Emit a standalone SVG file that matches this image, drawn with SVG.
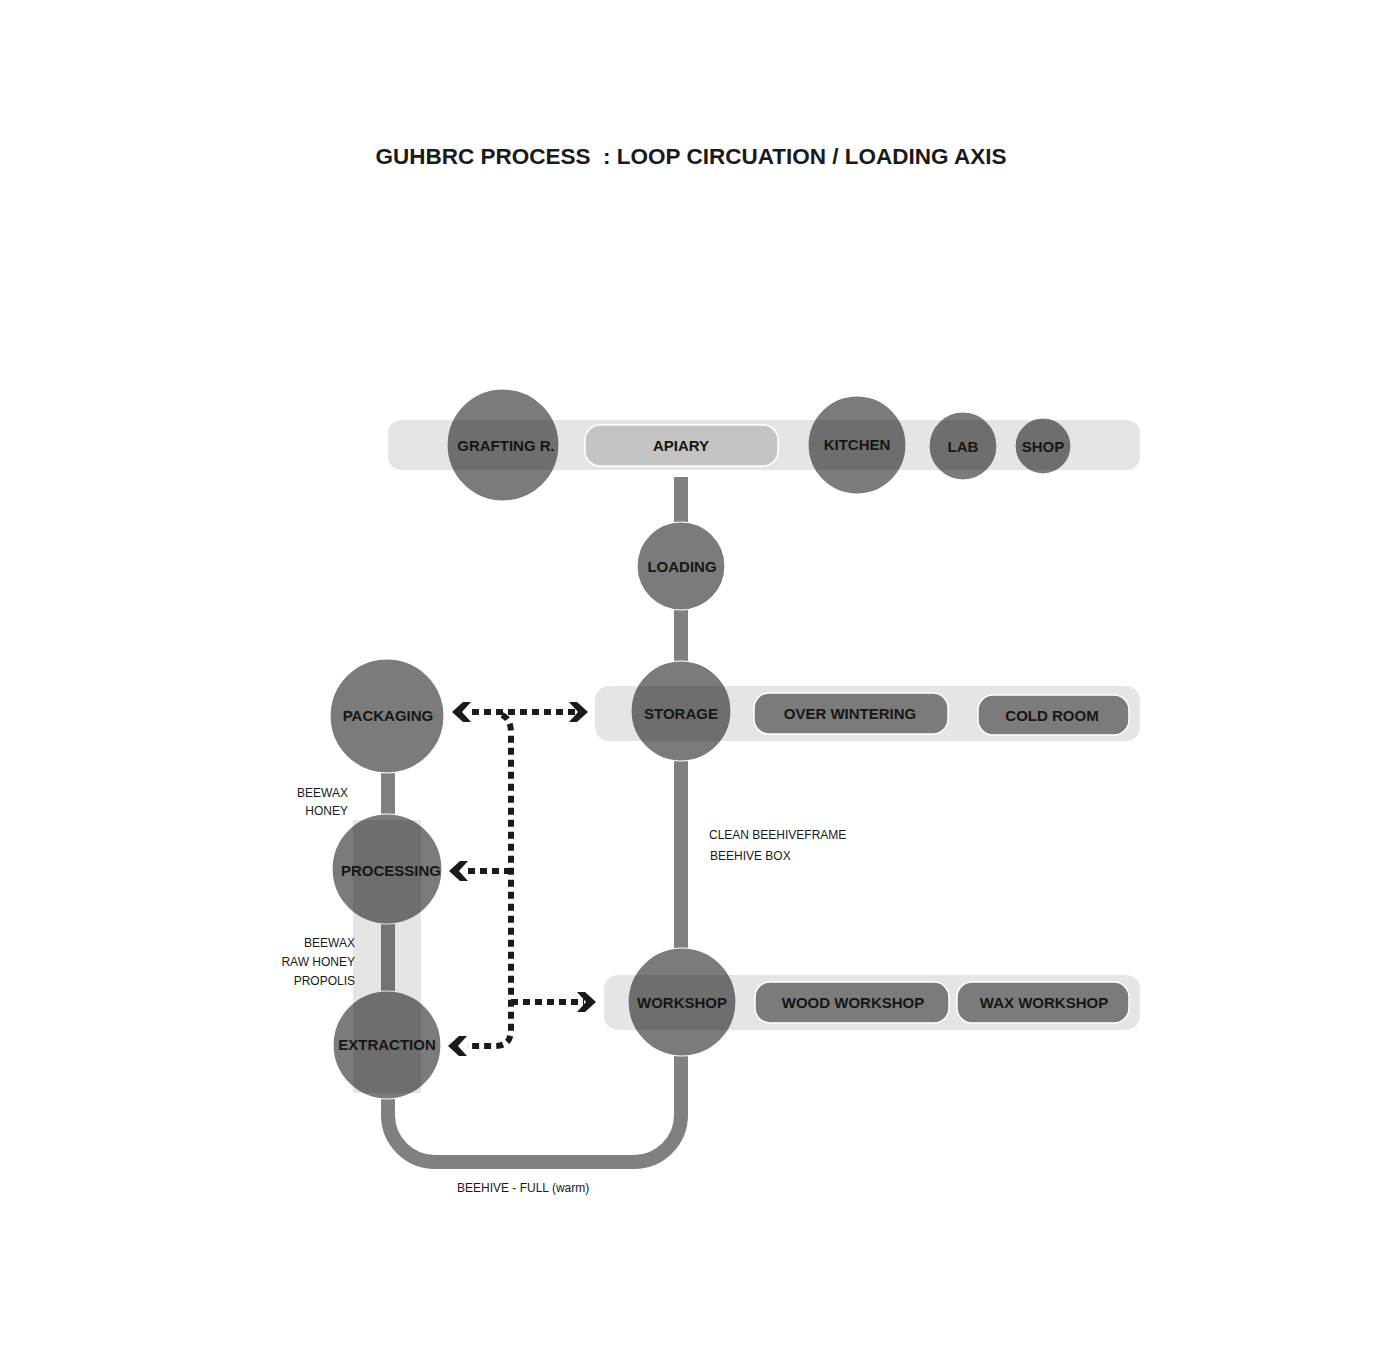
<svg xmlns="http://www.w3.org/2000/svg" xmlns:xlink="http://www.w3.org/1999/xlink" width="1400" height="1367" viewBox="0 0 1400 1367">
<style>
.title{font-family:"Liberation Sans",Arial,sans-serif;font-weight:bold;font-size:22.5px;fill:#1a1a1a;white-space:pre}
.lbl{font-family:"Liberation Sans",Arial,sans-serif;font-weight:bold;font-size:15px;fill:#161616;text-anchor:middle}
.note{font-family:"Liberation Sans",Arial,sans-serif;font-size:12px;fill:#1a1a1a}
.node{fill:#7b7b7b;stroke:#ffffff;stroke-width:1.2}
.pill{fill:#7b7b7b;stroke:#ffffff;stroke-width:1.5}
.band{fill:#000000;fill-opacity:0.1}
.flow{fill:none;stroke:#808080;stroke-width:14}
.dots{fill:none;stroke:#1a1a1a;stroke-width:6;stroke-dasharray:7 5}
.chev{fill:#1a1a1a}
</style>
<defs>
<path id="chev" d="M0 0 L11 -10 L19 -10 L10 0 L19 10 L11 10 Z"/>
</defs>
<rect width="1400" height="1367" fill="#ffffff"/>
<text class="title" x="691" y="164" text-anchor="middle">GUHBRC PROCESS  : LOOP CIRCUATION / LOADING AXIS</text>

<g id="connectors">
<path class="flow" d="M681 477 V1115 A47 47 0 0 1 634 1162 H435 A47 47 0 0 1 388 1115 V716"/>
<path class="dots" d="M472 712 H578"/>
<path class="dots" d="M502 715 Q511 719 511 733 V1030 Q511 1046 495 1046 H467"/>
<path class="dots" d="M511 871 H466"/>
<path class="dots" d="M511 1002 H584"/>
<use class="chev" xlink:href="#chev" transform="translate(452,712)"/>
<use class="chev" xlink:href="#chev" transform="translate(588,712) scale(-1,1)"/>
<use class="chev" xlink:href="#chev" transform="translate(449,871)"/>
<use class="chev" xlink:href="#chev" transform="translate(448,1046)"/>
<use class="chev" xlink:href="#chev" transform="translate(596,1002) scale(-1,1)"/>
</g>

<g id="grafting"><circle class="node" cx="503" cy="445" r="56"/></g>
<g id="kitchen"><circle class="node" cx="857" cy="445" r="49"/></g>
<g id="lab"><circle class="node" cx="963" cy="446" r="34"/></g>
<g id="shop"><circle class="node" cx="1043" cy="446" r="28"/></g>
<g id="loading"><circle class="node" cx="681" cy="566" r="44"/></g>
<g id="storage"><circle class="node" cx="681" cy="711" r="50"/></g>
<g id="workshop"><circle class="node" cx="682" cy="1002" r="54"/></g>
<g id="packaging"><circle class="node" cx="387" cy="716" r="57"/></g>
<g id="processing"><circle class="node" cx="387" cy="869" r="55"/></g>
<g id="extraction"><circle class="node" cx="387" cy="1045" r="54"/></g>

<g id="bands">
<rect class="band" x="388" y="420" width="752" height="50" rx="13"/>
<rect class="band" x="595" y="686" width="545" height="55" rx="14"/>
<rect class="band" x="604" y="975" width="536" height="55" rx="14"/>
<rect class="band" x="353" y="820" width="68" height="273"/>
</g>

<g id="apiary"><rect x="585" y="425" width="193" height="41" rx="15" fill="#c4c4c4" stroke="#ffffff" stroke-width="1.5"/><text class="lbl" x="681" y="451">APIARY</text></g>
<g id="overwintering"><rect class="pill" x="754" y="693" width="194" height="41" rx="15"/><text class="lbl" x="850" y="719">OVER WINTERING</text></g>
<g id="coldroom"><rect class="pill" x="978" y="695" width="151" height="40" rx="15"/><text class="lbl" x="1052" y="721">COLD ROOM</text></g>
<g id="woodworkshop"><rect class="pill" x="755" y="982" width="194" height="41" rx="15"/><text class="lbl" x="853" y="1008">WOOD WORKSHOP</text></g>
<g id="waxworkshop"><rect class="pill" x="957" y="982" width="172" height="41" rx="15"/><text class="lbl" x="1044" y="1008">WAX WORKSHOP</text></g>

<g id="node-labels">
<text class="lbl" x="506" y="451">GRAFTING R.</text>
<text class="lbl" x="857" y="450">KITCHEN</text>
<text class="lbl" x="963" y="452">LAB</text>
<text class="lbl" x="1043" y="452">SHOP</text>
<text class="lbl" x="682" y="572">LOADING</text>
<text class="lbl" x="681" y="719">STORAGE</text>
<text class="lbl" x="682" y="1008">WORKSHOP</text>
<text class="lbl" x="388" y="721">PACKAGING</text>
<text class="lbl" x="391" y="876">PROCESSING</text>
<text class="lbl" x="387" y="1050">EXTRACTION</text>
</g>

<g id="notes">
<text class="note" x="348" y="797" text-anchor="end">BEEWAX</text>
<text class="note" x="348" y="815" text-anchor="end">HONEY</text>
<text class="note" x="355" y="947" text-anchor="end">BEEWAX</text>
<text class="note" x="355" y="966" text-anchor="end">RAW HONEY</text>
<text class="note" x="355" y="985" text-anchor="end">PROPOLIS</text>
<text class="note" x="709" y="839">CLEAN BEEHIVEFRAME</text>
<text class="note" x="710" y="860">BEEHIVE BOX</text>
<text class="note" x="457" y="1192">BEEHIVE - FULL (warm)</text>
</g>
</svg>
